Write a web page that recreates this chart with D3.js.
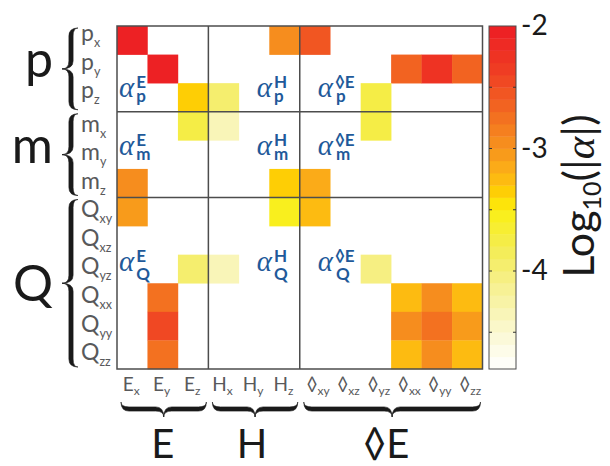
<!DOCTYPE html>
<html>
<head>
<meta charset="utf-8">
<script src="https://cdn.jsdelivr.net/npm/d3@7"></script>
<style>
  body { margin: 0; background: #fff; }
  text { font-family: Lato, "Open Sans", sans-serif; }
</style>
</head>
<body>
<script>
// row / column labels
var rowNames = ["p", "p", "p", "m", "m", "m", "Q", "Q", "Q", "Q", "Q", "Q"];
var rowSubs  = ["x", "y", "z", "x", "y", "z", "xy", "xz", "yz", "xx", "yy", "zz"];
var colNames = ["E", "E", "E", "H", "H", "H", "\u25CA", "\u25CA", "\u25CA", "\u25CA", "\u25CA", "\u25CA"];
var colSubs  = ["x", "y", "z", "x", "y", "z", "xy", "xz", "yz", "xx", "yy", "zz"];
var rowGroups = ["p", "m", "Q"];
var rowGroupSpan = [[0, 3], [3, 6], [6, 12]];
var colGroups = ["E", "H", "\u25CAE"];
var colGroupSpan = [[0, 3], [3, 6], [6, 12]];

// log10(|alpha|), null = empty cell
var n = null;
var logAlpha = [
  [-2.05, n, n, n, n, -2.95, -2.6, n, n, n, n, n],
  [n, -2.05, n, n, n, n, n, n, n, -2.65, -2.3, -2.65],
  [n, n, -3.4, -3.95, n, n, n, n, -3.75, n, n, n],
  [n, n, -3.8, -4.35, n, n, n, n, -3.75, n, n, n],
  [n, n, n, n, n, n, n, n, n, n, n, n],
  [-3.0, n, n, n, n, -3.4, -3.15, n, n, n, n, n],
  [-3.05, n, n, n, n, -3.55, -3.2, n, n, n, n, n],
  [n, n, n, n, n, n, n, n, n, n, n, n],
  [n, n, -3.95, -4.35, n, n, n, n, -4.1, n, n, n],
  [n, -2.7, n, n, n, n, n, n, n, -3.25, -2.95, -3.25],
  [n, -2.5, n, n, n, n, n, n, n, -3.0, -2.7, -3.05],
  [n, -2.8, n, n, n, n, n, n, n, -3.25, -3.0, -3.25]
];

// colour bar
var cbDomain = [-4.8, -2];
var cbTicks = [-2, -3, -4];
var cbMarks = [-2.5, -3, -3.5, -4, -4.5];
var stopVals = [-4.8, -4.5, -4.1, -3.8, -3.5, -3.4, -3.2, -3.0, -2.8, -2.4, -2.0];
var stopCols = ["#ffffff", "#faf8d2", "#f6f08c", "#f4ec50", "#faf014", "#ffd700",
                "#fcb216", "#f7941d", "#f47820", "#ef4123", "#ed1c24"];

// alpha annotations
var alphaLabels = [
  {row: 2, col: 0, sup: "E", sub: "p"}, {row: 2, col: 4, sup: "H", sub: "p"}, {row: 2, col: 6, sup: "\u25CAE", sub: "p"},
  {row: 4, col: 0, sup: "E", sub: "m"}, {row: 4, col: 4, sup: "H", sub: "m"}, {row: 4, col: 6, sup: "\u25CAE", sub: "m"},
  {row: 8, col: 0, sup: "E", sub: "Q"}, {row: 8, col: 4, sup: "H", sub: "Q"}, {row: 8, col: 6, sup: "\u25CAE", sub: "Q"}
];

var W = 610, H = 466;
var svg = d3.select("body").append("svg").attr("width", W).attr("height", H);

var x = d3.scaleBand().domain(d3.range(12)).range([117, 482.5]);
var y = d3.scaleBand().domain(d3.range(12)).range([26, 369]);

var base = d3.scaleLinear().domain(stopVals).range(stopCols).interpolate(d3.interpolateRgb).clamp(true);
var nBands = 28;
var step = (cbDomain[1] - cbDomain[0]) / nBands;
var bands = d3.range(nBands).map(function(k) { return cbDomain[0] + step * k; });
var bandCols = bands.map(function(v) { return base(v + step / 2); });
var color = d3.scaleQuantize().domain(cbDomain).range(bandCols);

// cells
var cells = [];
logAlpha.forEach(function(r, i) {
  r.forEach(function(v, j) { if (v !== null) cells.push({r: i, c: j, v: v}); });
});
svg.append("g").selectAll("rect").data(cells).enter().append("rect")
  .attr("x", function(d) { return x(d.c); })
  .attr("y", function(d) { return y(d.r); })
  .attr("width", x.bandwidth() + 0.3)
  .attr("height", y.bandwidth() + 0.3)
  .attr("fill", function(d) { return color(d.v); });

// frame and group lines
var lines = svg.append("g").attr("stroke", "#4d4d4d").attr("stroke-width", 1.5).attr("fill", "none");
lines.append("rect").attr("x", x(0)).attr("y", y(0))
  .attr("width", x.range()[1] - x(0)).attr("height", y.range()[1] - y(0));
[3, 6].forEach(function(k) {
  lines.append("line").attr("x1", x(k)).attr("x2", x(k)).attr("y1", y(0)).attr("y2", y.range()[1]);
  lines.append("line").attr("y1", y(k)).attr("y2", y(k)).attr("x1", x(0)).attr("x2", x.range()[1]);
});

// alpha labels (alpha + stacked super/subscript in one text)
var blue = "#1f5a9a";
var al = svg.append("g").selectAll("text").data(alphaLabels).enter().append("text")
  .attr("x", function(d) { return x(d.col) + (d.col === 0 ? 2 : 18); })
  .attr("y", function(d) { return y(d.row) + y.bandwidth() / 2 + (d.sub === "Q" ? 2 : 0); })
  .attr("fill", blue);
al.append("tspan").text("\u03B1")
  .attr("font-family", "'Liberation Serif', serif").attr("font-style", "italic")
  .attr("font-size", 29);
al.append("tspan").attr("class", "sup").text(function(d) { return d.sup; })
  .attr("dx", 2).attr("dy", -9)
  .attr("font-weight", "bold").attr("font-size", 17);
al.append("tspan").text(function(d) { return d.sub; })
  .attr("dy", function(d) { return d.sub === "Q" ? 18 : 14; })
  .attr("font-weight", "bold").attr("font-size", 17);
al.each(function(d) {
  var t = d3.select(this);
  var w = t.select(".sup").node().getComputedTextLength();
  t.select("tspan:last-child").attr("dx", -w + (d.sup.length > 1 ? 1 : 0));
});

// row labels
var gray = "#58595b";
var rl = svg.append("g").selectAll("text").data(rowNames).enter().append("text")
  .attr("x", 81)
  .attr("y", function(d, i) { return y(i) + y.bandwidth() / 2 + (d === "p" ? 1 : 5.5); })
  .attr("font-size", 23).attr("fill", gray)
  .text(function(d) { return d; });
rl.append("tspan").attr("font-size", 12.5).attr("dy", 6)
  .text(function(d, i) { return rowSubs[i]; });

// column labels
var cl = svg.append("g").selectAll("text").data(colNames).enter().append("text")
  .attr("x", function(d, i) { return x(i) + x.bandwidth() / 2 + (i < 6 ? -1 : 3); })
  .attr("y", 391)
  .attr("text-anchor", "middle")
  .attr("font-size", 19).attr("fill", gray)
  .text(function(d) { return d; });
cl.append("tspan").attr("font-size", 12).attr("dy", 4)
  .text(function(d, i) { return colSubs[i]; });

// braces: along a0..a1, across c, tip towards dir
function brace(a0, a1, c, dir, d, e, w, vertical) {
  var am = (a0 + a1) / 2, r = 8;
  var s1 = c + dir * w / 2, s2 = c - dir * w / 2, tip = c + dir * d, end = c - dir * e;
  var pts = [
    ["M", a0, end],
    ["Q", a0, s1, a0 + r, s1], ["L", am - r, s1], ["Q", am, s1, am, tip],
    ["Q", am, s1, am + r, s1], ["L", a1 - r, s1], ["Q", a1, s1, a1, end],
    ["Q", a1, s2, a1 - r, s2], ["L", am + r, s2], ["Q", am, s2, am, tip],
    ["Q", am, s2, am - r, s2], ["L", a0 + r, s2], ["Q", a0, s2, a0, end]
  ];
  return pts.map(function(p) {
    var s = p[0];
    for (var k = 1; k < p.length; k += 2) {
      var u = p[k], v = p[k + 1];
      s += (vertical ? v + "," + u : u + "," + v) + " ";
    }
    return s;
  }).join("") + "Z";
}

var br = svg.append("g").attr("fill", "#1a1a1a").attr("stroke", "#1a1a1a").attr("stroke-width", 0.6);
rowGroupSpan.forEach(function(s) {
  br.append("path").attr("d", brace(y(s[0]) + 2, y(s[1] - 1) + y.bandwidth() - 2, 71, -1, 9, 7, 4.2, true));
});
colGroupSpan.forEach(function(s) {
  br.append("path").attr("d", brace(x(s[0]) + 4, x(s[1] - 1) + x.bandwidth() - 2, 409, 1, 8, 7, 4.2, false));
});

// group letters
svg.append("g").selectAll("text").data(rowGroups).enter().append("text")
  .attr("x", 53)
  .attr("y", function(d, i) {
    var s = rowGroupSpan[i];
    return (y(s[0]) + y(s[1] - 1) + y.bandwidth()) / 2 + (d === "Q" ? 18 : 8);
  })
  .attr("text-anchor", "end")
  .attr("font-size", 50).attr("fill", "#1a1a1a")
  .text(function(d) { return d; });

svg.append("g").selectAll("text").data(colGroups).enter().append("text")
  .attr("x", function(d, i) {
    var s = colGroupSpan[i];
    return (x(s[0]) + x(s[1] - 1) + x.bandwidth()) / 2 + (i === 0 ? 0 : i === 1 ? -2 : -5);
  })
  .attr("y", 458)
  .attr("text-anchor", "middle")
  .attr("font-size", 40).attr("fill", "#1a1a1a")
  .text(function(d) { return d; });

// colour bar
var cbX = 489, cbW = 27;
var cb = d3.scaleLinear().domain(cbDomain).range([369, 26]);
var cbg = svg.append("g");
cbg.selectAll("rect").data(bands).enter().append("rect")
  .attr("x", cbX).attr("width", cbW)
  .attr("y", function(v) { return cb(v + step); })
  .attr("height", function(v) { return cb(v) - cb(v + step) + 0.4; })
  .attr("fill", function(v, k) { return bandCols[k]; });
cbg.append("rect").attr("x", cbX).attr("y", cb(cbDomain[1])).attr("width", cbW)
  .attr("height", cb(cbDomain[0]) - cb(cbDomain[1]))
  .attr("fill", "none").attr("stroke", "#4d4d4d").attr("stroke-width", 1);
cbMarks.forEach(function(v) {
  cbg.append("line").attr("x1", cbX).attr("x2", cbX + 3).attr("y1", cb(v)).attr("y2", cb(v)).attr("stroke", "#333");
  cbg.append("line").attr("x1", cbX + cbW - 3).attr("x2", cbX + cbW).attr("y1", cb(v)).attr("y2", cb(v)).attr("stroke", "#333");
});
var axis = svg.append("g").attr("transform", "translate(" + (cbX + cbW) + ",0)")
  .call(d3.axisRight(cb).tickValues(cbTicks).tickSize(0).tickPadding(5)
    .tickFormat(function(d) { return String(d); }));
axis.select(".domain").remove();
axis.selectAll("text").attr("font-size", 28).attr("fill", "#1a1a1a")
  .attr("font-family", "Lato, sans-serif");

// colour bar title
var title = svg.append("text")
  .attr("transform", "translate(594,196) rotate(-90)")
  .attr("text-anchor", "middle")
  .attr("font-size", 43).attr("fill", "#1a1a1a");
title.append("tspan").text("Log");
title.append("tspan").attr("font-size", 25).attr("dy", 7).text("10");
title.append("tspan").attr("dy", -7).text("(|");
title.append("tspan").attr("font-family", "'Liberation Serif', serif").attr("font-style", "italic").text("\u03B1");
title.append("tspan").text("|)");
</script>
</body>
</html>
